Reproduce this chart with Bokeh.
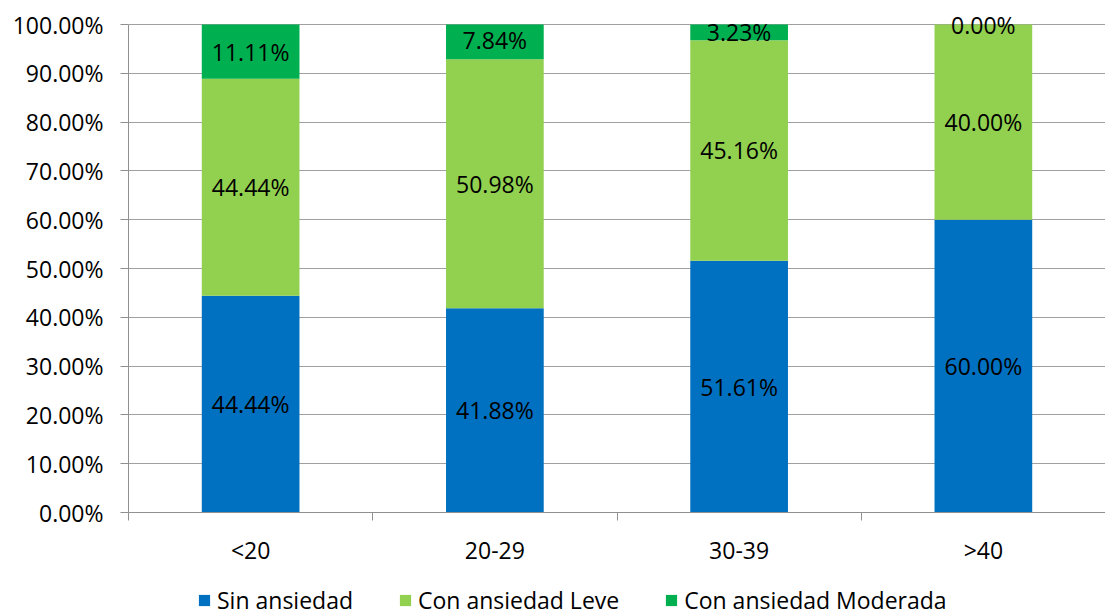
import numpy as np
from bokeh.plotting import figure
from bokeh.layouts import column
from bokeh.models import (ColumnDataSource, Range1d, FixedTicker, Legend, LegendItem)
from bokeh.core.properties import value
from bokeh.embed import file_html
from bokeh.resources import INLINE

categories = ["<20", "20-29", "30-39", ">40"]
sin_ansiedad = [44.44, 41.88, 51.61, 60.00]
ansiedad_leve = [44.44, 50.98, 45.16, 40.00]
ansiedad_moderada = [11.11, 7.84, 3.23, 0.00]
series_names = ["Sin ansiedad", "Con ansiedad Leve", "Con ansiedad Moderada"]
colors = ["#0070C0", "#92D050", "#00B050"]
y_ticks = list(range(0, 101, 10))
Y_MAX = 100

FONT = "Open Sans"
FS = "23px"

series = [sin_ansiedad, ansiedad_leve, ansiedad_moderada]
n = len(categories)
xc = [i + 0.5 for i in range(n)]

# small headroom above 100% so the top data labels are not clipped
TOP_BORDER = 12
FRAME_BOTTOM = 512
Y100 = 24
y_end = Y_MAX * (FRAME_BOTTOM - TOP_BORDER) / (FRAME_BOTTOM - Y100)

p = figure(width=1105, height=571, output_backend="svg", toolbar_location=None,
           x_range=Range1d(0, n), y_range=Range1d(0, y_end),
           min_border_left=128, min_border_right=0, min_border_top=TOP_BORDER,
           min_border_bottom=59)
p.outline_line_color = None
p.background_fill_color = "white"

bottom = np.zeros(n)
for vals, name, col in zip(series, series_names, colors):
    v = np.array(vals)
    top = bottom + v
    src = ColumnDataSource(dict(x=xc, bottom=np.minimum(bottom, Y_MAX),
                                top=np.minimum(top, Y_MAX)))
    p.vbar(x="x", bottom="bottom", top="top", width=0.4, source=src,
           fill_color=col, line_color=None)
    lab = ColumnDataSource(dict(x=xc, y=(bottom + top) / 2,
                                t=["%.2f%%" % a for a in vals]))
    p.text(x="x", y="y", text="t", source=lab, text_align="center",
           text_baseline="middle", text_font=value(FONT),
           text_font_size=FS, text_color="black")
    bottom = top

# y axis
p.yaxis.ticker = FixedTicker(ticks=y_ticks)
p.yaxis.bounds = (0, Y_MAX)
p.yaxis.major_label_overrides = {t: "%.2f%%" % t for t in y_ticks}
p.yaxis.major_label_text_font = FONT
p.yaxis.major_label_text_font_size = FS
p.yaxis.major_label_text_color = "black"
p.yaxis.major_tick_in = 0
p.yaxis.major_tick_out = 8
p.yaxis.minor_tick_line_color = None
p.yaxis.axis_line_color = "#909090"
p.yaxis.major_tick_line_color = "#909090"
p.yaxis.major_label_standoff = 17

# x axis
p.xaxis.ticker = FixedTicker(ticks=xc, minor_ticks=list(range(n + 1)))
p.xaxis.major_label_overrides = {x: c for x, c in zip(xc, categories)}
p.xaxis.major_label_text_font = FONT
p.xaxis.major_label_text_font_size = FS
p.xaxis.major_label_text_color = "black"
p.xaxis.major_tick_in = 0
p.xaxis.major_tick_out = 0
p.xaxis.minor_tick_in = 0
p.xaxis.minor_tick_out = 8
p.xaxis.minor_tick_line_color = "#909090"
p.xaxis.axis_line_color = "#909090"
p.xaxis.major_label_standoff = 13

p.xgrid.grid_line_color = None
p.ygrid.grid_line_color = "#A0A0A0"
p.ygrid.grid_line_width = 1

# legend strip below the chart (its frame is aligned with the chart frame)
lg = figure(width=1105, height=45, output_backend="svg", toolbar_location=None,
            x_range=Range1d(0, 1), y_range=Range1d(0, 1),
            x_axis_location=None, y_axis_location=None, min_border=0)
lg.outline_line_color = None
lg.xgrid.grid_line_color = None
lg.ygrid.grid_line_color = None
items = []
for name, col in zip(series_names, colors):
    # zero-height swatch renderer, used only for the legend glyph
    r = lg.vbar(x=[0.5], bottom=[0], top=[0], width=0.0, fill_color=col,
                line_color=None)
    items.append(LegendItem(label=name, renderers=[r]))
legend = Legend(items=items, orientation="horizontal", location=(69, 0),
                label_text_font=FONT, label_text_font_size=FS,
                label_text_color="black",
                glyph_width=14, glyph_height=14, spacing=45,
                label_standoff=6, border_line_color=None,
                background_fill_alpha=0, margin=0, padding=0)
lg.add_layout(legend, "center")

layout = column(p, lg, spacing=0)
open("out.html", "w").write(file_html(layout, INLINE))
